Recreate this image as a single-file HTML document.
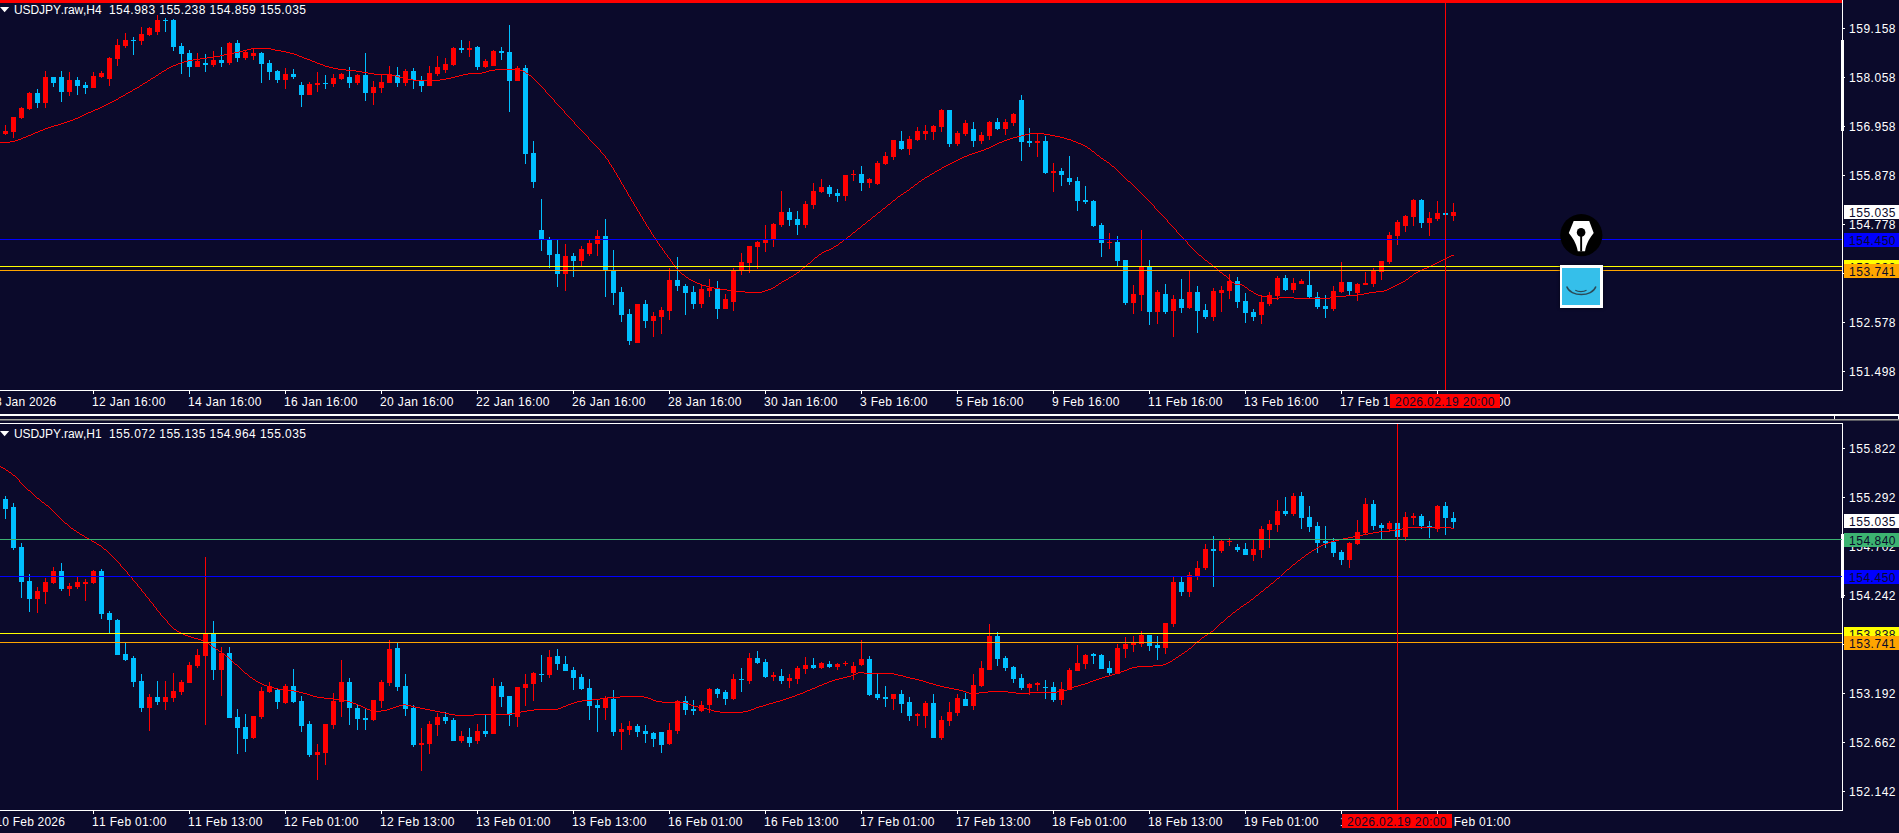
<!DOCTYPE html>
<html><head><meta charset="utf-8"><title>USDJPY</title>
<style>
html,body{margin:0;padding:0;background:#0b0a2b;}
body{width:1899px;height:833px;position:relative;overflow:hidden;font-family:"Liberation Sans",sans-serif;font-size:12px;color:#fff;font-kerning:none;}
.a{position:absolute;}
.t{position:absolute;white-space:nowrap;line-height:14px;height:14px;}
.pl{position:absolute;left:1849px;white-space:nowrap;line-height:14px;height:14px;letter-spacing:0.52px;}
.tl{position:absolute;white-space:nowrap;line-height:14px;height:14px;letter-spacing:0.37px;}
.tag{position:absolute;left:1844px;width:55px;height:14px;line-height:16px;overflow:hidden;white-space:nowrap;letter-spacing:0.52px;text-indent:5px;color:#0b0a2b;}
.tk{position:absolute;left:1843px;width:2px;height:1px;background:#fff;}
.vt{position:absolute;width:1px;height:3px;background:#fff;}
svg{position:absolute;left:0;top:0;}
</style></head><body>

<svg width="1842" height="833" viewBox="0 0 1842 833" shape-rendering="crispEdges">
<path fill="#ff0000" d="M5 125h1v10h-1zM3 131h5v3h-5zM13 117h1v21h-1zM11 117h5v15h-5zM21 107h1v12h-1zM19 108h5v10h-5zM29 92h1v18h-1zM27 93h5v16h-5zM45 71h1v37h-1zM43 77h5v26h-5zM69 72h1v24h-1zM67 80h5v12h-5zM93 72h1v16h-1zM91 76h5v12h-5zM101 71h1v7h-1zM99 73h5v4h-5zM109 57h1v29h-1zM107 58h5v21h-5zM117 39h1v27h-1zM115 45h5v14h-5zM125 33h1v15h-1zM123 40h5v6h-5zM141 27h1v18h-1zM139 34h5v7h-5zM149 27h1v9h-1zM147 28h5v7h-5zM157 15h1v20h-1zM155 20h5v12h-5zM197 53h1v14h-1zM195 61h5v6h-5zM213 51h1v16h-1zM211 60h5v5h-5zM229 42h1v23h-1zM227 43h5v20h-5zM245 50h1v10h-1zM243 52h5v6h-5zM253 48h1v12h-1zM251 53h5v3h-5zM285 68h1v21h-1zM283 74h5v6h-5zM309 82h1v13h-1zM307 84h5v11h-5zM317 72h1v20h-1zM315 83h5v2h-5zM333 74h1v13h-1zM331 78h5v6h-5zM341 73h1v7h-1zM339 74h5v5h-5zM357 74h1v11h-1zM355 75h5v8h-5zM373 81h1v24h-1zM371 87h5v6h-5zM381 74h1v19h-1zM379 82h5v6h-5zM389 66h1v17h-1zM387 74h5v9h-5zM405 69h1v17h-1zM403 71h5v12h-5zM429 66h1v20h-1zM427 73h5v13h-5zM437 56h1v20h-1zM435 67h5v7h-5zM445 58h1v15h-1zM443 64h5v6h-5zM453 47h1v19h-1zM451 48h5v17h-5zM469 41h1v16h-1zM467 48h5v2h-5zM485 59h1v9h-1zM483 61h5v6h-5zM493 50h1v16h-1zM491 51h5v15h-5zM517 66h1v15h-1zM515 68h5v13h-5zM565 244h1v47h-1zM563 256h5v18h-5zM581 246h1v20h-1zM579 249h5v12h-5zM589 240h1v16h-1zM587 243h5v11h-5zM597 230h1v26h-1zM595 236h5v8h-5zM637 304h1v39h-1zM635 304h5v39h-5zM653 312h1v25h-1zM651 316h5v5h-5zM661 307h1v27h-1zM659 310h5v7h-5zM669 268h1v52h-1zM667 280h5v31h-5zM701 284h1v24h-1zM699 289h5v15h-5zM709 279h1v18h-1zM707 288h5v3h-5zM725 294h1v15h-1zM723 299h5v10h-5zM733 268h1v43h-1zM731 271h5v31h-5zM741 253h1v22h-1zM739 262h5v8h-5zM749 246h1v27h-1zM747 246h5v17h-5zM757 241h1v28h-1zM755 242h5v5h-5zM765 225h1v27h-1zM763 240h5v3h-5zM773 223h1v24h-1zM771 224h5v15h-5zM781 191h1v36h-1zM779 212h5v13h-5zM805 201h1v27h-1zM803 204h5v21h-5zM813 183h1v26h-1zM811 191h5v14h-5zM821 179h1v14h-1zM819 187h5v5h-5zM845 175h1v26h-1zM843 175h5v21h-5zM853 170h1v11h-1zM851 174h5v1h-5zM869 178h1v10h-1zM867 179h5v4h-5zM877 161h1v24h-1zM875 163h5v21h-5zM885 152h1v13h-1zM883 156h5v8h-5zM893 140h1v20h-1zM891 140h5v17h-5zM909 136h1v19h-1zM907 139h5v10h-5zM917 127h1v14h-1zM915 131h5v9h-5zM925 125h1v15h-1zM923 131h5v3h-5zM933 125h1v15h-1zM931 126h5v6h-5zM941 109h1v23h-1zM939 110h5v17h-5zM957 131h1v15h-1zM955 133h5v11h-5zM965 120h1v16h-1zM963 123h5v11h-5zM981 132h1v12h-1zM979 135h5v6h-5zM989 121h1v19h-1zM987 122h5v14h-5zM1005 119h1v16h-1zM1003 122h5v7h-5zM1013 113h1v13h-1zM1011 114h5v9h-5zM1037 133h1v24h-1zM1035 141h5v2h-5zM1053 163h1v29h-1zM1051 171h5v2h-5zM1109 233h1v16h-1zM1107 242h5v1h-5zM1133 285h1v29h-1zM1131 294h5v9h-5zM1141 230h1v81h-1zM1139 266h5v29h-5zM1157 290h1v34h-1zM1155 292h5v20h-5zM1173 295h1v42h-1zM1171 299h5v12h-5zM1189 271h1v38h-1zM1187 292h5v16h-5zM1213 288h1v33h-1zM1211 291h5v26h-5zM1221 286h1v26h-1zM1219 290h5v3h-5zM1229 274h1v25h-1zM1227 281h5v10h-5zM1261 296h1v28h-1zM1259 302h5v13h-5zM1269 292h1v14h-1zM1267 295h5v9h-5zM1277 276h1v24h-1zM1275 278h5v18h-5zM1293 278h1v15h-1zM1291 283h5v7h-5zM1301 279h1v5h-1zM1299 281h5v3h-5zM1333 286h1v25h-1zM1331 291h5v18h-5zM1341 262h1v31h-1zM1339 282h5v10h-5zM1357 283h1v18h-1zM1355 284h5v9h-5zM1365 272h1v13h-1zM1363 283h5v2h-5zM1373 268h1v19h-1zM1371 271h5v13h-5zM1381 261h1v19h-1zM1379 261h5v11h-5zM1389 232h1v32h-1zM1387 235h5v27h-5zM1397 220h1v25h-1zM1395 222h5v14h-5zM1405 215h1v17h-1zM1403 216h5v10h-5zM1413 199h1v27h-1zM1411 200h5v17h-5zM1429 212h1v24h-1zM1427 218h5v5h-5zM1437 201h1v20h-1zM1435 213h5v6h-5zM1453 203h1v18h-1zM1451 212h5v4h-5z"/>
<path fill="#00bfff" d="M37 89h1v19h-1zM35 93h5v10h-5zM53 77h1v10h-1zM51 77h5v6h-5zM61 71h1v31h-1zM59 77h5v15h-5zM77 77h1v18h-1zM75 80h5v6h-5zM85 82h1v12h-1zM83 85h5v3h-5zM133 37h1v18h-1zM131 40h5v1h-5zM165 18h1v14h-1zM163 20h5v1h-5zM173 19h1v32h-1zM171 20h5v27h-5zM181 43h1v31h-1zM179 46h5v8h-5zM189 50h1v27h-1zM187 53h5v14h-5zM205 54h1v18h-1zM203 63h5v2h-5zM221 47h1v20h-1zM219 60h5v3h-5zM237 40h1v22h-1zM235 43h5v15h-5zM261 52h1v31h-1zM259 53h5v11h-5zM269 60h1v20h-1zM267 63h5v9h-5zM277 70h1v13h-1zM275 71h5v9h-5zM293 69h1v10h-1zM291 74h5v3h-5zM301 82h1v25h-1zM299 85h5v10h-5zM325 75h1v14h-1zM323 83h5v1h-5zM349 67h1v21h-1zM347 77h5v6h-5zM365 53h1v48h-1zM363 75h5v18h-5zM397 67h1v20h-1zM395 75h5v8h-5zM413 68h1v21h-1zM411 71h5v9h-5zM421 76h1v16h-1zM419 81h5v5h-5zM461 40h1v13h-1zM459 48h5v2h-5zM477 46h1v24h-1zM475 47h5v20h-5zM501 47h1v13h-1zM499 51h5v2h-5zM509 25h1v87h-1zM507 52h5v29h-5zM525 65h1v99h-1zM523 68h5v86h-5zM533 141h1v47h-1zM531 153h5v29h-5zM541 199h1v52h-1zM539 230h5v10h-5zM549 237h1v31h-1zM547 240h5v15h-5zM557 240h1v47h-1zM555 254h5v20h-5zM573 253h1v24h-1zM571 256h5v5h-5zM605 219h1v78h-1zM603 236h5v34h-5zM613 250h1v55h-1zM611 271h5v22h-5zM621 287h1v35h-1zM619 292h5v23h-5zM629 309h1v36h-1zM627 314h5v27h-5zM645 300h1v28h-1zM643 304h5v17h-5zM677 257h1v34h-1zM675 280h5v6h-5zM685 284h1v31h-1zM683 286h5v7h-5zM693 286h1v23h-1zM691 292h5v12h-5zM717 281h1v38h-1zM715 288h5v21h-5zM789 208h1v18h-1zM787 212h5v8h-5zM797 211h1v24h-1zM795 219h5v6h-5zM829 185h1v12h-1zM827 187h5v7h-5zM837 189h1v13h-1zM835 193h5v3h-5zM861 166h1v25h-1zM859 174h5v9h-5zM901 131h1v19h-1zM899 141h5v8h-5zM949 110h1v37h-1zM947 110h5v34h-5zM973 122h1v25h-1zM971 129h5v12h-5zM997 118h1v12h-1zM995 122h5v7h-5zM1021 95h1v66h-1zM1019 100h5v42h-5zM1029 128h1v19h-1zM1027 141h5v2h-5zM1045 136h1v38h-1zM1043 141h5v32h-5zM1061 168h1v18h-1zM1059 171h5v4h-5zM1069 156h1v29h-1zM1067 178h5v4h-5zM1077 177h1v34h-1zM1075 181h5v20h-5zM1085 186h1v18h-1zM1083 200h5v2h-5zM1093 200h1v27h-1zM1091 201h5v25h-5zM1101 223h1v34h-1zM1099 225h5v18h-5zM1117 236h1v30h-1zM1115 242h5v19h-5zM1125 260h1v45h-1zM1123 260h5v43h-5zM1149 260h1v65h-1zM1147 266h5v46h-5zM1165 284h1v30h-1zM1163 294h5v18h-5zM1181 279h1v34h-1zM1179 299h5v9h-5zM1197 286h1v47h-1zM1195 292h5v19h-5zM1205 304h1v15h-1zM1203 310h5v7h-5zM1237 277h1v31h-1zM1235 281h5v21h-5zM1245 293h1v30h-1zM1243 301h5v12h-5zM1253 309h1v12h-1zM1251 312h5v5h-5zM1285 275h1v16h-1zM1283 278h5v12h-5zM1309 271h1v28h-1zM1307 285h5v12h-5zM1317 292h1v17h-1zM1315 297h5v10h-5zM1325 295h1v23h-1zM1323 306h5v3h-5zM1349 282h1v14h-1zM1347 282h5v9h-5zM1421 199h1v29h-1zM1419 200h5v23h-5zM1445 213h1v2h-1zM1443 213h5v2h-5z"/>
<path fill="#ff0000" d="M37 587h1v26h-1zM35 591h5v8h-5zM45 578h1v26h-1zM43 582h5v10h-5zM53 567h1v17h-1zM51 571h5v12h-5zM69 583h1v13h-1zM67 586h5v3h-5zM77 577h1v12h-1zM75 582h5v5h-5zM85 579h1v22h-1zM83 582h5v2h-5zM93 570h1v14h-1zM91 571h5v12h-5zM149 694h1v37h-1zM147 697h5v11h-5zM165 681h1v29h-1zM163 697h5v5h-5zM173 673h1v29h-1zM171 691h5v7h-5zM181 680h1v15h-1zM179 682h5v10h-5zM189 662h1v21h-1zM187 665h5v18h-5zM197 649h1v19h-1zM195 655h5v11h-5zM205 557h1v168h-1zM203 634h5v22h-5zM221 647h1v49h-1zM219 653h5v17h-5zM253 716h1v23h-1zM251 716h5v22h-5zM261 687h1v32h-1zM259 691h5v26h-5zM269 682h1v11h-1zM267 686h5v6h-5zM285 684h1v20h-1zM283 686h5v17h-5zM317 744h1v36h-1zM315 752h5v3h-5zM325 724h1v41h-1zM323 724h5v29h-5zM333 693h1v36h-1zM331 701h5v24h-5zM341 660h1v57h-1zM339 682h5v20h-5zM373 700h1v21h-1zM371 700h5v20h-5zM381 680h1v28h-1zM379 682h5v19h-5zM389 640h1v46h-1zM387 649h5v34h-5zM421 728h1v43h-1zM419 743h5v2h-5zM429 721h1v33h-1zM427 724h5v20h-5zM437 713h1v23h-1zM435 717h5v8h-5zM461 731h1v12h-1zM459 736h5v5h-5zM477 724h1v20h-1zM475 731h5v10h-5zM493 678h1v56h-1zM491 686h5v48h-5zM517 687h1v40h-1zM515 687h5v30h-5zM525 674h1v32h-1zM523 684h5v4h-5zM533 672h1v29h-1zM531 673h5v11h-5zM549 650h1v28h-1zM547 657h5v18h-5zM605 696h1v24h-1zM603 698h5v10h-5zM621 723h1v27h-1zM619 729h5v3h-5zM629 721h1v14h-1zM627 726h5v4h-5zM669 723h1v22h-1zM667 730h5v14h-5zM677 700h1v34h-1zM675 701h5v30h-5zM701 701h1v11h-1zM699 705h5v6h-5zM709 688h1v25h-1zM707 689h5v16h-5zM733 674h1v26h-1zM731 679h5v20h-5zM749 653h1v31h-1zM747 658h5v23h-5zM773 672h1v9h-1zM771 675h5v2h-5zM789 674h1v14h-1zM787 678h5v3h-5zM797 666h1v18h-1zM795 668h5v11h-5zM805 657h1v17h-1zM803 665h5v4h-5zM821 662h1v7h-1zM819 663h5v5h-5zM837 663h1v7h-1zM835 664h5v3h-5zM845 661h1v5h-1zM843 663h5v1h-5zM853 662h1v18h-1zM851 666h5v7h-5zM861 640h1v26h-1zM859 659h5v6h-5zM893 694h1v16h-1zM891 694h5v5h-5zM917 713h1v13h-1zM915 714h5v2h-5zM925 701h1v27h-1zM923 703h5v13h-5zM941 716h1v24h-1zM939 720h5v18h-5zM949 702h1v24h-1zM947 712h5v9h-5zM957 694h1v22h-1zM955 698h5v15h-5zM973 674h1v36h-1zM971 685h5v21h-5zM981 661h1v26h-1zM979 668h5v18h-5zM989 624h1v46h-1zM987 636h5v34h-5zM1029 683h1v12h-1zM1027 684h5v4h-5zM1037 682h1v9h-1zM1035 683h5v2h-5zM1061 682h1v23h-1zM1059 689h5v11h-5zM1069 668h1v22h-1zM1067 670h5v20h-5zM1077 645h1v26h-1zM1075 663h5v8h-5zM1085 654h1v15h-1zM1083 655h5v9h-5zM1117 644h1v30h-1zM1115 648h5v26h-5zM1125 637h1v21h-1zM1123 644h5v5h-5zM1133 636h1v16h-1zM1131 643h5v2h-5zM1141 631h1v16h-1zM1139 635h5v9h-5zM1165 623h1v31h-1zM1163 623h5v25h-5zM1173 577h1v50h-1zM1171 582h5v42h-5zM1189 572h1v25h-1zM1187 575h5v17h-5zM1197 561h1v19h-1zM1195 568h5v8h-5zM1205 544h1v26h-1zM1203 549h5v19h-5zM1221 540h1v13h-1zM1219 541h5v10h-5zM1229 538h1v8h-1zM1227 541h5v1h-5zM1253 540h1v21h-1zM1251 549h5v6h-5zM1261 526h1v32h-1zM1259 529h5v21h-5zM1269 520h1v28h-1zM1267 524h5v6h-5zM1277 500h1v32h-1zM1275 511h5v14h-5zM1293 493h1v23h-1zM1291 496h5v18h-5zM1349 542h1v26h-1zM1347 543h5v17h-5zM1357 520h1v25h-1zM1355 532h5v12h-5zM1365 498h1v37h-1zM1363 504h5v29h-5zM1389 521h1v11h-1zM1387 523h5v6h-5zM1405 512h1v29h-1zM1403 517h5v20h-5zM1413 513h1v12h-1zM1411 516h5v2h-5zM1437 505h1v27h-1zM1435 506h5v23h-5z"/>
<path fill="#00bfff" d="M5 496h1v23h-1zM3 499h5v10h-5zM13 503h1v47h-1zM11 507h5v41h-5zM21 543h1v55h-1zM19 547h5v35h-5zM29 574h1v38h-1zM27 581h5v18h-5zM61 563h1v28h-1zM59 571h5v18h-5zM101 569h1v50h-1zM99 571h5v43h-5zM109 611h1v22h-1zM107 613h5v7h-5zM117 619h1v36h-1zM115 620h5v35h-5zM125 643h1v18h-1zM123 654h5v6h-5zM133 656h1v31h-1zM131 658h5v24h-5zM141 674h1v38h-1zM139 681h5v27h-5zM157 681h1v24h-1zM155 697h5v5h-5zM213 621h1v59h-1zM211 634h5v36h-5zM229 647h1v71h-1zM227 653h5v65h-5zM237 709h1v45h-1zM235 717h5v11h-5zM245 714h1v38h-1zM243 727h5v12h-5zM277 689h1v20h-1zM275 690h5v12h-5zM293 669h1v34h-1zM291 686h5v16h-5zM301 696h1v36h-1zM299 701h5v25h-5zM309 721h1v36h-1zM307 724h5v31h-5zM349 678h1v47h-1zM347 682h5v26h-5zM357 705h1v25h-1zM355 708h5v11h-5zM365 709h1v21h-1zM363 718h5v2h-5zM397 643h1v48h-1zM395 648h5v39h-5zM405 674h1v42h-1zM403 686h5v23h-5zM413 705h1v42h-1zM411 708h5v37h-5zM445 712h1v12h-1zM443 717h5v4h-5zM453 718h1v23h-1zM451 720h5v21h-5zM469 728h1v19h-1zM467 737h5v6h-5zM485 715h1v22h-1zM483 731h5v3h-5zM501 682h1v25h-1zM499 686h5v11h-5zM509 696h1v30h-1zM507 696h5v19h-5zM541 655h1v27h-1zM539 674h5v1h-5zM557 649h1v21h-1zM555 656h5v8h-5zM565 656h1v15h-1zM563 664h5v7h-5zM573 667h1v23h-1zM571 670h5v8h-5zM581 674h1v16h-1zM579 677h5v12h-5zM589 679h1v41h-1zM587 688h5v18h-5zM597 700h1v32h-1zM595 705h5v3h-5zM613 690h1v46h-1zM611 699h5v33h-5zM637 724h1v13h-1zM635 726h5v6h-5zM645 725h1v18h-1zM643 731h5v3h-5zM653 732h1v15h-1zM651 733h5v6h-5zM661 732h1v21h-1zM659 732h5v13h-5zM685 696h1v19h-1zM683 701h5v9h-5zM693 700h1v15h-1zM691 709h5v2h-5zM717 688h1v10h-1zM715 689h5v5h-5zM725 690h1v15h-1zM723 692h5v7h-5zM741 668h1v24h-1zM739 679h5v1h-5zM757 651h1v13h-1zM755 658h5v5h-5zM765 659h1v19h-1zM763 662h5v15h-5zM781 669h1v15h-1zM779 676h5v5h-5zM813 658h1v11h-1zM811 665h5v3h-5zM829 661h1v7h-1zM827 664h5v3h-5zM869 656h1v40h-1zM867 659h5v36h-5zM877 674h1v26h-1zM875 694h5v4h-5zM885 686h1v21h-1zM883 697h5v2h-5zM901 690h1v23h-1zM899 694h5v10h-5zM909 697h1v24h-1zM907 702h5v14h-5zM933 694h1v44h-1zM931 703h5v35h-5zM965 693h1v13h-1zM963 699h5v7h-5zM997 632h1v34h-1zM995 636h5v23h-5zM1005 656h1v15h-1zM1003 658h5v10h-5zM1013 666h1v17h-1zM1011 667h5v12h-5zM1021 674h1v16h-1zM1019 678h5v10h-5zM1045 680h1v19h-1zM1043 687h5v1h-5zM1053 682h1v20h-1zM1051 687h5v13h-5zM1093 653h1v11h-1zM1091 654h5v2h-5zM1101 654h1v15h-1zM1099 655h5v14h-5zM1109 661h1v14h-1zM1107 668h5v5h-5zM1149 635h1v16h-1zM1147 635h5v11h-5zM1157 636h1v24h-1zM1155 645h5v3h-5zM1181 577h1v19h-1zM1179 582h5v10h-5zM1213 536h1v51h-1zM1211 549h5v2h-5zM1237 544h1v8h-1zM1235 547h5v3h-5zM1245 543h1v12h-1zM1243 549h5v6h-5zM1285 497h1v19h-1zM1283 511h5v3h-5zM1301 492h1v37h-1zM1299 496h5v22h-5zM1309 506h1v26h-1zM1307 517h5v10h-5zM1317 522h1v31h-1zM1315 526h5v17h-5zM1325 526h1v22h-1zM1323 541h5v2h-5zM1333 538h1v19h-1zM1331 542h5v11h-5zM1341 550h1v15h-1zM1339 552h5v8h-5zM1373 500h1v30h-1zM1371 504h5v22h-5zM1381 523h1v16h-1zM1379 525h5v3h-5zM1397 523h1v14h-1zM1395 523h5v14h-5zM1421 514h1v15h-1zM1419 516h5v10h-5zM1429 521h1v17h-1zM1427 526h5v2h-5zM1445 502h1v33h-1zM1443 506h5v12h-5zM1453 512h1v17h-1zM1451 518h5v4h-5z"/>
<path fill="#ff0000" d="M0 142h10v1h-10zM10 141h5v1h-5zM15 140h3v1h-3zM18 139h3v1h-3zM21 138h2v1h-2zM23 137h3v1h-3zM26 136h2v1h-2zM28 135h3v1h-3zM31 134h2v1h-2zM33 133h2v1h-2zM35 132h3v1h-3zM38 131h2v1h-2zM40 130h3v1h-3zM43 129h2v1h-2zM45 128h3v1h-3zM48 127h3v1h-3zM51 126h3v1h-3zM54 125h4v1h-4zM58 124h3v1h-3zM61 123h3v1h-3zM64 122h3v1h-3zM67 121h3v1h-3zM70 120h3v1h-3zM73 119h2v1h-2zM75 118h3v1h-3zM78 117h2v1h-2zM80 116h2v1h-2zM82 115h2v1h-2zM84 114h2v1h-2zM86 113h2v1h-2zM88 112h3v1h-3zM91 111h2v1h-2zM93 110h2v1h-2zM95 109h3v1h-3zM98 108h2v1h-2zM100 107h2v1h-2zM102 106h2v1h-2zM104 105h2v1h-2zM106 104h2v1h-2zM108 103h2v1h-2zM110 102h2v1h-2zM112 101h2v1h-2zM114 100h2v1h-2zM116 99h2v1h-2zM118 98h1v1h-1zM119 97h2v1h-2zM121 96h2v1h-2zM123 95h2v1h-2zM125 94h1v1h-1zM126 93h2v1h-2zM128 92h2v1h-2zM130 91h2v1h-2zM132 90h1v1h-1zM133 89h2v1h-2zM135 88h2v1h-2zM137 87h2v1h-2zM139 86h1v1h-1zM140 85h2v1h-2zM142 84h1v1h-1zM143 83h2v1h-2zM145 82h2v1h-2zM147 81h1v1h-1zM148 80h2v1h-2zM150 79h1v1h-1zM151 78h2v1h-2zM153 77h2v1h-2zM155 76h1v1h-1zM156 75h2v1h-2zM158 74h1v1h-1zM159 73h2v1h-2zM161 72h1v1h-1zM162 71h2v1h-2zM164 70h2v1h-2zM166 69h1v1h-1zM167 68h2v1h-2zM169 67h2v1h-2zM171 66h2v1h-2zM173 65h3v1h-3zM176 64h2v1h-2zM178 63h3v1h-3zM181 62h3v1h-3zM184 61h4v1h-4zM188 60h5v1h-5zM193 59h7v1h-7zM200 58h7v1h-7zM207 57h7v1h-7zM214 56h6v1h-6zM220 55h4v1h-4zM224 54h5v1h-5zM229 53h5v1h-5zM234 52h5v1h-5zM239 51h4v1h-4zM243 50h4v1h-4zM247 49h4v1h-4zM251 48h20v1h-20zM271 49h4v1h-4zM275 50h6v1h-6zM281 51h5v1h-5zM286 52h4v1h-4zM290 53h4v1h-4zM294 54h3v1h-3zM297 55h2v1h-2zM299 56h3v1h-3zM302 57h2v1h-2zM304 58h3v1h-3zM307 59h3v1h-3zM310 60h2v1h-2zM312 61h3v1h-3zM315 62h2v1h-2zM317 63h3v1h-3zM320 64h3v1h-3zM323 65h2v1h-2zM325 66h4v1h-4zM329 67h4v1h-4zM333 68h5v1h-5zM338 69h8v1h-8zM346 70h10v1h-10zM356 71h6v1h-6zM362 72h6v1h-6zM368 73h6v1h-6zM374 74h13v1h-13zM387 75h9v1h-9zM396 76h3v1h-3zM399 77h4v1h-4zM403 78h5v1h-5zM408 79h5v1h-5zM413 80h27v1h-27zM440 79h6v1h-6zM446 78h5v1h-5zM451 77h4v1h-4zM455 76h4v1h-4zM459 75h4v1h-4zM463 74h5v1h-5zM468 73h14v1h-14zM482 72h4v1h-4zM486 71h3v1h-3zM489 70h6v1h-6zM495 69h25v1h-25zM520 70h3v1h-3zM523 71h2v1h-2zM525 72h1v1h-1zM526 73h2v1h-2zM528 74h1v1h-1zM529 75h2v1h-2zM531 76h1v1h-1zM532 77h1v1h-1zM533 78h1v1h-1zM534 79h1v1h-1zM535 80h1v1h-1zM536 81h1v1h-1zM537 82h1v1h-1zM538 83h1v1h-1zM539 84h1v1h-1zM540 85h1v1h-1zM541 86h1v1h-1zM542 87h1v1h-1zM543 88h1v1h-1zM544 89h1v1h-1zM545 90h1v2h-1zM546 92h1v1h-1zM547 93h1v1h-1zM548 94h1v1h-1zM549 95h1v1h-1zM550 96h1v1h-1zM551 97h1v1h-1zM552 98h1v1h-1zM553 99h1v1h-1zM554 100h1v2h-1zM555 102h1v1h-1zM556 103h1v1h-1zM557 104h1v1h-1zM558 105h1v1h-1zM559 106h1v1h-1zM560 107h1v1h-1zM561 108h1v1h-1zM562 109h1v1h-1zM563 110h1v1h-1zM564 111h1v2h-1zM565 113h1v1h-1zM566 114h1v1h-1zM567 115h1v1h-1zM568 116h1v1h-1zM569 117h1v1h-1zM570 118h1v1h-1zM571 119h1v1h-1zM572 120h1v1h-1zM573 121h1v1h-1zM574 122h1v2h-1zM575 124h1v1h-1zM576 125h1v1h-1zM577 126h1v1h-1zM578 127h1v1h-1zM579 128h1v1h-1zM580 129h1v1h-1zM581 130h1v1h-1zM582 131h1v1h-1zM583 132h1v1h-1zM584 133h1v1h-1zM585 134h1v1h-1zM586 135h1v1h-1zM587 136h1v1h-1zM588 137h1v2h-1zM589 139h1v1h-1zM590 140h1v1h-1zM591 141h1v1h-1zM592 142h1v1h-1zM593 143h1v1h-1zM594 144h1v1h-1zM595 145h1v1h-1zM596 146h1v1h-1zM597 147h1v1h-1zM598 148h1v1h-1zM599 149h1v1h-1zM600 150h1v2h-1zM601 152h1v1h-1zM602 153h1v1h-1zM603 154h1v1h-1zM604 155h1v1h-1zM605 156h1v2h-1zM606 158h1v1h-1zM607 159h1v1h-1zM608 160h1v2h-1zM609 162h1v2h-1zM610 164h1v1h-1zM611 165h1v2h-1zM612 167h1v1h-1zM613 168h1v2h-1zM614 170h1v2h-1zM615 172h1v1h-1zM616 173h1v2h-1zM617 175h1v2h-1zM618 177h1v1h-1zM619 178h1v2h-1zM620 180h1v2h-1zM621 182h1v2h-1zM622 184h1v1h-1zM623 185h1v2h-1zM624 187h1v2h-1zM625 189h1v1h-1zM626 190h1v2h-1zM627 192h1v2h-1zM628 194h1v2h-1zM629 196h1v1h-1zM630 197h1v2h-1zM631 199h1v2h-1zM632 201h1v1h-1zM633 202h1v2h-1zM634 204h1v2h-1zM635 206h1v1h-1zM636 207h1v2h-1zM637 209h1v2h-1zM638 211h1v1h-1zM639 212h1v2h-1zM640 214h1v2h-1zM641 216h1v1h-1zM642 217h1v2h-1zM643 219h1v2h-1zM644 221h1v1h-1zM645 222h1v2h-1zM646 224h1v2h-1zM647 226h1v1h-1zM648 227h1v2h-1zM649 229h1v1h-1zM650 230h1v2h-1zM651 232h1v2h-1zM652 234h1v1h-1zM653 235h1v2h-1zM654 237h1v1h-1zM655 238h1v2h-1zM656 240h1v1h-1zM657 241h1v2h-1zM658 243h1v1h-1zM659 244h1v2h-1zM660 246h1v1h-1zM661 247h1v1h-1zM662 248h1v2h-1zM663 250h1v1h-1zM664 251h1v2h-1zM665 253h1v1h-1zM666 254h1v1h-1zM667 255h1v2h-1zM668 257h1v1h-1zM669 258h1v1h-1zM670 259h1v2h-1zM671 261h1v1h-1zM672 262h1v2h-1zM673 264h1v1h-1zM674 265h1v1h-1zM675 266h1v2h-1zM676 268h1v1h-1zM677 269h1v1h-1zM678 270h1v1h-1zM679 271h1v1h-1zM680 272h1v1h-1zM681 273h1v1h-1zM682 274h2v1h-2zM684 275h1v1h-1zM685 276h1v1h-1zM686 277h2v1h-2zM688 278h1v1h-1zM689 279h2v1h-2zM691 280h2v1h-2zM693 281h2v1h-2zM695 282h2v1h-2zM697 283h3v1h-3zM700 284h2v1h-2zM702 285h4v1h-4zM706 286h4v1h-4zM710 287h4v1h-4zM714 288h6v1h-6zM720 289h7v1h-7zM727 290h8v1h-8zM735 291h10v1h-10zM745 292h17v1h-17zM762 291h3v1h-3zM765 290h3v1h-3zM768 289h3v1h-3zM771 288h2v1h-2zM773 287h2v1h-2zM775 286h1v1h-1zM776 285h2v1h-2zM778 284h1v1h-1zM779 283h2v1h-2zM781 282h1v1h-1zM782 281h2v1h-2zM784 280h2v1h-2zM786 279h2v1h-2zM788 278h1v1h-1zM789 277h2v1h-2zM791 276h2v1h-2zM793 275h1v1h-1zM794 274h2v1h-2zM796 273h1v1h-1zM797 272h2v1h-2zM799 271h1v1h-1zM800 270h1v1h-1zM801 269h1v1h-1zM802 268h1v1h-1zM803 267h2v1h-2zM805 266h1v1h-1zM806 265h1v1h-1zM807 264h1v1h-1zM808 263h2v1h-2zM810 262h1v1h-1zM811 261h1v1h-1zM812 260h1v1h-1zM813 259h1v1h-1zM814 258h1v1h-1zM815 257h2v1h-2zM817 256h1v1h-1zM818 255h1v1h-1zM819 254h2v1h-2zM821 253h1v1h-1zM822 252h2v1h-2zM824 251h2v1h-2zM826 250h3v1h-3zM829 249h2v1h-2zM831 248h2v1h-2zM833 247h1v1h-1zM834 246h2v1h-2zM836 245h2v1h-2zM838 244h1v1h-1zM839 243h1v1h-1zM840 242h2v1h-2zM842 241h1v1h-1zM843 240h1v1h-1zM844 239h2v1h-2zM846 238h1v1h-1zM847 237h1v1h-1zM848 236h2v1h-2zM850 235h1v1h-1zM851 234h1v1h-1zM852 233h1v1h-1zM853 232h2v1h-2zM855 231h1v1h-1zM856 230h1v1h-1zM857 229h1v1h-1zM858 228h2v1h-2zM860 227h1v1h-1zM861 226h1v1h-1zM862 225h1v1h-1zM863 224h2v1h-2zM865 223h1v1h-1zM866 222h1v1h-1zM867 221h1v1h-1zM868 220h2v1h-2zM870 219h1v1h-1zM871 218h1v1h-1zM872 217h1v1h-1zM873 216h2v1h-2zM875 215h1v1h-1zM876 214h1v1h-1zM877 213h1v1h-1zM878 212h2v1h-2zM880 211h1v1h-1zM881 210h1v1h-1zM882 209h1v1h-1zM883 208h2v1h-2zM885 207h1v1h-1zM886 206h1v1h-1zM887 205h1v1h-1zM888 204h2v1h-2zM890 203h1v1h-1zM891 202h1v1h-1zM892 201h1v1h-1zM893 200h2v1h-2zM895 199h1v1h-1zM896 198h1v1h-1zM897 197h1v1h-1zM898 196h2v1h-2zM900 195h1v1h-1zM901 194h2v1h-2zM903 193h1v1h-1zM904 192h2v1h-2zM906 191h1v1h-1zM907 190h2v1h-2zM909 189h1v1h-1zM910 188h1v1h-1zM911 187h2v1h-2zM913 186h1v1h-1zM914 185h1v1h-1zM915 184h2v1h-2zM917 183h1v1h-1zM918 182h1v1h-1zM919 181h2v1h-2zM921 180h1v1h-1zM922 179h2v1h-2zM924 178h1v1h-1zM925 177h2v1h-2zM927 176h2v1h-2zM929 175h1v1h-1zM930 174h2v1h-2zM932 173h2v1h-2zM934 172h1v1h-1zM935 171h2v1h-2zM937 170h2v1h-2zM939 169h2v1h-2zM941 168h1v1h-1zM942 167h2v1h-2zM944 166h2v1h-2zM946 165h2v1h-2zM948 164h2v1h-2zM950 163h2v1h-2zM952 162h2v1h-2zM954 161h2v1h-2zM956 160h2v1h-2zM958 159h2v1h-2zM960 158h2v1h-2zM962 157h2v1h-2zM964 156h3v1h-3zM967 155h2v1h-2zM969 154h3v1h-3zM972 153h3v1h-3zM975 152h3v1h-3zM978 151h3v1h-3zM981 150h3v1h-3zM984 149h2v1h-2zM986 148h3v1h-3zM989 147h2v1h-2zM991 146h2v1h-2zM993 145h2v1h-2zM995 144h2v1h-2zM997 143h2v1h-2zM999 142h3v1h-3zM1002 141h2v1h-2zM1004 140h3v1h-3zM1007 139h3v1h-3zM1010 138h3v1h-3zM1013 137h4v1h-4zM1017 136h4v1h-4zM1021 135h4v1h-4zM1025 134h4v1h-4zM1029 133h15v1h-15zM1044 134h6v1h-6zM1050 135h5v1h-5zM1055 136h5v1h-5zM1060 137h4v1h-4zM1064 138h3v1h-3zM1067 139h4v1h-4zM1071 140h2v1h-2zM1073 141h3v1h-3zM1076 142h2v1h-2zM1078 143h3v1h-3zM1081 144h2v1h-2zM1083 145h2v1h-2zM1085 146h2v1h-2zM1087 147h1v1h-1zM1088 148h2v1h-2zM1090 149h1v1h-1zM1091 150h1v1h-1zM1092 151h2v1h-2zM1094 152h1v1h-1zM1095 153h1v1h-1zM1096 154h1v1h-1zM1097 155h2v1h-2zM1099 156h1v1h-1zM1100 157h1v1h-1zM1101 158h2v1h-2zM1103 159h1v1h-1zM1104 160h2v1h-2zM1106 161h1v1h-1zM1107 162h2v1h-2zM1109 163h1v1h-1zM1110 164h1v1h-1zM1111 165h1v1h-1zM1112 166h2v1h-2zM1114 167h1v1h-1zM1115 168h1v1h-1zM1116 169h1v1h-1zM1117 170h1v1h-1zM1118 171h1v1h-1zM1119 172h1v1h-1zM1120 173h1v1h-1zM1121 174h1v1h-1zM1122 175h1v1h-1zM1123 176h1v1h-1zM1124 177h1v1h-1zM1125 178h1v1h-1zM1126 179h1v1h-1zM1127 180h1v1h-1zM1128 181h2v1h-2zM1130 182h1v1h-1zM1131 183h1v1h-1zM1132 184h1v1h-1zM1133 185h1v1h-1zM1134 186h1v1h-1zM1135 187h1v1h-1zM1136 188h1v1h-1zM1137 189h1v1h-1zM1138 190h1v1h-1zM1139 191h1v1h-1zM1140 192h1v1h-1zM1141 193h1v1h-1zM1142 194h1v1h-1zM1143 195h1v1h-1zM1144 196h1v1h-1zM1145 197h1v1h-1zM1146 198h1v1h-1zM1147 199h1v1h-1zM1148 200h1v1h-1zM1149 201h1v1h-1zM1150 202h1v1h-1zM1151 203h1v1h-1zM1152 204h1v1h-1zM1153 205h1v1h-1zM1154 206h1v2h-1zM1155 208h1v1h-1zM1156 209h1v1h-1zM1157 210h1v1h-1zM1158 211h1v1h-1zM1159 212h1v1h-1zM1160 213h1v1h-1zM1161 214h1v1h-1zM1162 215h1v1h-1zM1163 216h1v1h-1zM1164 217h1v1h-1zM1165 218h1v1h-1zM1166 219h1v1h-1zM1167 220h1v2h-1zM1168 222h1v1h-1zM1169 223h1v1h-1zM1170 224h1v1h-1zM1171 225h1v1h-1zM1172 226h1v1h-1zM1173 227h1v1h-1zM1174 228h1v1h-1zM1175 229h1v1h-1zM1176 230h1v2h-1zM1177 232h1v1h-1zM1178 233h1v1h-1zM1179 234h1v1h-1zM1180 235h1v1h-1zM1181 236h1v1h-1zM1182 237h1v1h-1zM1183 238h1v1h-1zM1184 239h1v1h-1zM1185 240h1v1h-1zM1186 241h1v1h-1zM1187 242h1v2h-1zM1188 244h1v1h-1zM1189 245h1v1h-1zM1190 246h1v1h-1zM1191 247h1v1h-1zM1192 248h1v1h-1zM1193 249h1v1h-1zM1194 250h1v1h-1zM1195 251h1v1h-1zM1196 252h1v1h-1zM1197 253h1v1h-1zM1198 254h1v1h-1zM1199 255h2v1h-2zM1201 256h1v1h-1zM1202 257h1v1h-1zM1203 258h1v1h-1zM1204 259h1v1h-1zM1205 260h2v1h-2zM1207 261h1v1h-1zM1208 262h1v1h-1zM1209 263h2v1h-2zM1211 264h1v1h-1zM1212 265h1v1h-1zM1213 266h1v1h-1zM1214 267h2v1h-2zM1216 268h1v1h-1zM1217 269h1v1h-1zM1218 270h1v1h-1zM1219 271h1v1h-1zM1220 272h2v1h-2zM1222 273h1v1h-1zM1223 274h1v1h-1zM1224 275h2v1h-2zM1226 276h1v1h-1zM1227 277h1v1h-1zM1228 278h1v1h-1zM1229 279h1v1h-1zM1230 280h1v1h-1zM1231 281h1v1h-1zM1232 282h2v1h-2zM1234 283h1v1h-1zM1235 284h7v1h-7zM1242 285h2v1h-2zM1244 286h1v1h-1zM1245 287h2v1h-2zM1247 288h1v1h-1zM1248 289h1v1h-1zM1249 290h2v1h-2zM1251 291h2v1h-2zM1253 292h1v1h-1zM1254 293h2v1h-2zM1256 294h2v1h-2zM1258 295h4v1h-4zM1262 296h6v1h-6zM1268 297h3v1h-3zM1271 298h8v1h-8zM1279 297h15v1h-15zM1294 298h36v1h-36zM1330 297h3v1h-3zM1333 296h13v1h-13zM1346 295h12v1h-12zM1358 294h6v1h-6zM1364 293h5v1h-5zM1369 292h7v1h-7zM1376 291h8v1h-8zM1384 290h3v1h-3zM1387 289h2v1h-2zM1389 288h2v1h-2zM1391 287h2v1h-2zM1393 286h2v1h-2zM1395 285h2v1h-2zM1397 284h2v1h-2zM1399 283h2v1h-2zM1401 282h2v1h-2zM1403 281h2v1h-2zM1405 280h1v1h-1zM1406 279h2v1h-2zM1408 278h1v1h-1zM1409 277h1v1h-1zM1410 276h2v1h-2zM1412 275h1v1h-1zM1413 274h1v1h-1zM1414 273h2v1h-2zM1416 272h2v1h-2zM1418 271h2v1h-2zM1420 270h2v1h-2zM1422 269h2v1h-2zM1424 268h3v1h-3zM1427 267h2v1h-2zM1429 266h2v1h-2zM1431 265h2v1h-2zM1433 264h2v1h-2zM1435 263h2v1h-2zM1437 262h2v1h-2zM1439 261h2v1h-2zM1441 260h2v1h-2zM1443 259h2v1h-2zM1445 258h2v1h-2zM1447 257h2v1h-2zM1449 256h2v1h-2zM1451 255h3v1h-3z"/>
<path fill="#ff0000" d="M0 466h1v1h-1zM1 467h2v1h-2zM3 468h2v1h-2zM5 469h1v1h-1zM6 470h2v1h-2zM8 471h1v1h-1zM9 472h2v1h-2zM11 473h1v1h-1zM12 474h1v1h-1zM13 475h2v1h-2zM15 476h1v1h-1zM16 477h1v1h-1zM17 478h1v1h-1zM18 479h1v1h-1zM19 480h1v2h-1zM20 482h1v1h-1zM21 483h1v1h-1zM22 484h1v1h-1zM23 485h1v1h-1zM24 486h1v1h-1zM25 487h1v1h-1zM26 488h1v1h-1zM27 489h1v1h-1zM28 490h2v1h-2zM30 491h1v1h-1zM31 492h1v1h-1zM32 493h1v1h-1zM33 494h1v1h-1zM34 495h1v1h-1zM35 496h1v1h-1zM36 497h1v1h-1zM37 498h2v1h-2zM39 499h1v1h-1zM40 500h1v1h-1zM41 501h1v1h-1zM42 502h2v1h-2zM44 503h1v1h-1zM45 504h1v1h-1zM46 505h2v1h-2zM48 506h1v1h-1zM49 507h1v1h-1zM50 508h1v1h-1zM51 509h1v1h-1zM52 510h1v1h-1zM53 511h1v1h-1zM54 512h1v1h-1zM55 513h1v1h-1zM56 514h1v1h-1zM57 515h1v1h-1zM58 516h1v1h-1zM59 517h1v1h-1zM60 518h1v1h-1zM61 519h1v1h-1zM62 520h1v1h-1zM63 521h1v1h-1zM64 522h1v1h-1zM65 523h2v1h-2zM67 524h1v1h-1zM68 525h1v1h-1zM69 526h1v1h-1zM70 527h1v1h-1zM71 528h2v1h-2zM73 529h1v1h-1zM74 530h2v1h-2zM76 531h1v1h-1zM77 532h2v1h-2zM79 533h1v1h-1zM80 534h2v1h-2zM82 535h2v1h-2zM84 536h1v1h-1zM85 537h2v1h-2zM87 538h2v1h-2zM89 539h2v1h-2zM91 540h1v1h-1zM92 541h2v1h-2zM94 542h2v1h-2zM96 543h1v1h-1zM97 544h2v1h-2zM99 545h2v1h-2zM101 546h1v1h-1zM102 547h1v1h-1zM103 548h1v1h-1zM104 549h2v1h-2zM106 550h1v1h-1zM107 551h1v1h-1zM108 552h1v1h-1zM109 553h1v1h-1zM110 554h1v1h-1zM111 555h1v1h-1zM112 556h1v1h-1zM113 557h1v1h-1zM114 558h1v1h-1zM115 559h1v1h-1zM116 560h1v1h-1zM117 561h1v1h-1zM118 562h1v1h-1zM119 563h1v1h-1zM120 564h1v2h-1zM121 566h1v1h-1zM122 567h1v1h-1zM123 568h1v1h-1zM124 569h1v1h-1zM125 570h1v1h-1zM126 571h1v1h-1zM127 572h1v2h-1zM128 574h1v1h-1zM129 575h1v1h-1zM130 576h1v1h-1zM131 577h1v1h-1zM132 578h1v2h-1zM133 580h1v1h-1zM134 581h1v1h-1zM135 582h1v1h-1zM136 583h1v1h-1zM137 584h1v2h-1zM138 586h1v1h-1zM139 587h1v1h-1zM140 588h1v1h-1zM141 589h1v2h-1zM142 591h1v1h-1zM143 592h1v1h-1zM144 593h1v1h-1zM145 594h1v2h-1zM146 596h1v1h-1zM147 597h1v1h-1zM148 598h1v1h-1zM149 599h1v2h-1zM150 601h1v1h-1zM151 602h1v1h-1zM152 603h1v1h-1zM153 604h1v2h-1zM154 606h1v1h-1zM155 607h1v1h-1zM156 608h1v2h-1zM157 610h1v1h-1zM158 611h1v1h-1zM159 612h1v1h-1zM160 613h1v2h-1zM161 615h1v1h-1zM162 616h1v1h-1zM163 617h1v1h-1zM164 618h1v1h-1zM165 619h1v1h-1zM166 620h1v1h-1zM167 621h1v2h-1zM168 623h1v1h-1zM169 624h1v1h-1zM170 625h1v1h-1zM171 626h1v1h-1zM172 627h1v1h-1zM173 628h1v1h-1zM174 629h2v1h-2zM176 630h1v1h-1zM177 631h2v1h-2zM179 632h2v1h-2zM181 633h2v1h-2zM183 634h2v1h-2zM185 635h3v1h-3zM188 636h3v1h-3zM191 637h3v1h-3zM194 638h4v1h-4zM198 639h3v1h-3zM201 640h3v1h-3zM204 641h1v1h-1zM205 642h2v1h-2zM207 643h2v1h-2zM209 644h1v1h-1zM210 645h2v1h-2zM212 646h1v1h-1zM213 647h2v1h-2zM215 648h1v1h-1zM216 649h2v1h-2zM218 650h1v1h-1zM219 651h2v1h-2zM221 652h1v1h-1zM222 653h2v1h-2zM224 654h1v1h-1zM225 655h1v1h-1zM226 656h2v1h-2zM228 657h1v1h-1zM229 658h1v1h-1zM230 659h1v1h-1zM231 660h1v1h-1zM232 661h1v1h-1zM233 662h1v1h-1zM234 663h1v1h-1zM235 664h2v1h-2zM237 665h1v1h-1zM238 666h1v1h-1zM239 667h1v1h-1zM240 668h1v1h-1zM241 669h1v1h-1zM242 670h1v1h-1zM243 671h1v1h-1zM244 672h1v1h-1zM245 673h2v1h-2zM247 674h1v1h-1zM248 675h1v1h-1zM249 676h1v1h-1zM250 677h2v1h-2zM252 678h1v1h-1zM253 679h2v1h-2zM255 680h1v1h-1zM256 681h2v1h-2zM258 682h2v1h-2zM260 683h2v1h-2zM262 684h2v1h-2zM264 685h3v1h-3zM267 686h3v1h-3zM270 687h4v1h-4zM274 688h4v1h-4zM278 689h9v1h-9zM287 690h7v1h-7zM294 691h5v1h-5zM299 692h4v1h-4zM303 693h4v1h-4zM307 694h3v1h-3zM310 695h3v1h-3zM313 696h4v1h-4zM317 697h7v1h-7zM324 698h9v1h-9zM333 699h9v1h-9zM342 700h5v1h-5zM347 701h3v1h-3zM350 702h3v1h-3zM353 703h3v1h-3zM356 704h2v1h-2zM358 705h3v1h-3zM361 706h2v1h-2zM363 707h2v1h-2zM365 708h2v1h-2zM367 709h3v1h-3zM370 710h2v1h-2zM372 711h9v1h-9zM381 710h6v1h-6zM387 709h3v1h-3zM390 708h3v1h-3zM393 707h3v1h-3zM396 706h3v1h-3zM399 705h4v1h-4zM403 704h3v1h-3zM406 705h5v1h-5zM411 706h4v1h-4zM415 707h5v1h-5zM420 708h5v1h-5zM425 709h5v1h-5zM430 710h5v1h-5zM435 711h5v1h-5zM440 712h5v1h-5zM445 713h4v1h-4zM449 714h6v1h-6zM455 715h19v1h-19zM474 714h17v1h-17zM491 715h4v1h-4zM495 714h15v1h-15zM510 713h5v1h-5zM515 712h6v1h-6zM521 711h6v1h-6zM527 710h7v1h-7zM534 709h24v1h-24zM558 708h3v1h-3zM561 707h2v1h-2zM563 706h3v1h-3zM566 705h2v1h-2zM568 704h3v1h-3zM571 703h3v1h-3zM574 702h3v1h-3zM577 701h5v1h-5zM582 700h10v1h-10zM592 699h8v1h-8zM600 698h7v1h-7zM607 697h13v1h-13zM620 696h24v1h-24zM644 697h4v1h-4zM648 698h3v1h-3zM651 699h2v1h-2zM653 700h3v1h-3zM656 701h6v1h-6zM662 702h24v1h-24zM686 703h3v1h-3zM689 704h2v1h-2zM691 705h3v1h-3zM694 706h4v1h-4zM698 707h4v1h-4zM702 708h5v1h-5zM707 709h4v1h-4zM711 710h3v1h-3zM714 711h6v1h-6zM720 712h23v1h-23zM743 711h5v1h-5zM748 710h3v1h-3zM751 709h3v1h-3zM754 708h2v1h-2zM756 707h3v1h-3zM759 706h4v1h-4zM763 705h3v1h-3zM766 704h3v1h-3zM769 703h4v1h-4zM773 702h3v1h-3zM776 701h4v1h-4zM780 700h3v1h-3zM783 699h3v1h-3zM786 698h3v1h-3zM789 697h3v1h-3zM792 696h3v1h-3zM795 695h2v1h-2zM797 694h3v1h-3zM800 693h3v1h-3zM803 692h2v1h-2zM805 691h2v1h-2zM807 690h3v1h-3zM810 689h2v1h-2zM812 688h3v1h-3zM815 687h2v1h-2zM817 686h2v1h-2zM819 685h3v1h-3zM822 684h2v1h-2zM824 683h3v1h-3zM827 682h2v1h-2zM829 681h3v1h-3zM832 680h3v1h-3zM835 679h4v1h-4zM839 678h4v1h-4zM843 677h4v1h-4zM847 676h4v1h-4zM851 675h3v1h-3zM854 674h2v1h-2zM856 673h2v1h-2zM858 672h6v1h-6zM864 673h30v1h-30zM894 674h4v1h-4zM898 675h5v1h-5zM903 676h3v1h-3zM906 677h4v1h-4zM910 678h5v1h-5zM915 679h4v1h-4zM919 680h4v1h-4zM923 681h3v1h-3zM926 682h3v1h-3zM929 683h4v1h-4zM933 684h3v1h-3zM936 685h4v1h-4zM940 686h4v1h-4zM944 687h5v1h-5zM949 688h5v1h-5zM954 689h5v1h-5zM959 690h4v1h-4zM963 691h3v1h-3zM966 692h3v1h-3zM969 693h10v1h-10zM979 692h9v1h-9zM988 691h20v1h-20zM1008 692h8v1h-8zM1016 693h14v1h-14zM1030 692h27v1h-27zM1057 691h7v1h-7zM1064 690h3v1h-3zM1067 689h2v1h-2zM1069 688h3v1h-3zM1072 687h2v1h-2zM1074 686h4v1h-4zM1078 685h3v1h-3zM1081 684h4v1h-4zM1085 683h3v1h-3zM1088 682h2v1h-2zM1090 681h3v1h-3zM1093 680h3v1h-3zM1096 679h3v1h-3zM1099 678h3v1h-3zM1102 677h3v1h-3zM1105 676h4v1h-4zM1109 675h3v1h-3zM1112 674h3v1h-3zM1115 673h3v1h-3zM1118 672h3v1h-3zM1121 671h3v1h-3zM1124 670h3v1h-3zM1127 669h2v1h-2zM1129 668h3v1h-3zM1132 667h5v1h-5zM1137 666h16v1h-16zM1153 665h10v1h-10zM1163 664h3v1h-3zM1166 663h2v1h-2zM1168 662h2v1h-2zM1170 661h2v1h-2zM1172 660h1v1h-1zM1173 659h2v1h-2zM1175 658h1v1h-1zM1176 657h2v1h-2zM1178 656h1v1h-1zM1179 655h2v1h-2zM1181 654h1v1h-1zM1182 653h2v1h-2zM1184 652h1v1h-1zM1185 651h2v1h-2zM1187 650h1v1h-1zM1188 649h1v1h-1zM1189 648h2v1h-2zM1191 647h1v1h-1zM1192 646h1v1h-1zM1193 645h1v1h-1zM1194 644h1v1h-1zM1195 643h1v1h-1zM1196 642h1v1h-1zM1197 641h2v1h-2zM1199 640h1v1h-1zM1200 639h1v1h-1zM1201 638h1v1h-1zM1202 637h2v1h-2zM1204 636h1v1h-1zM1205 635h2v1h-2zM1207 634h1v1h-1zM1208 633h2v1h-2zM1210 632h1v1h-1zM1211 631h2v1h-2zM1213 630h1v1h-1zM1214 629h1v1h-1zM1215 628h1v1h-1zM1216 627h1v1h-1zM1217 626h1v1h-1zM1218 625h1v1h-1zM1219 624h1v1h-1zM1220 623h1v1h-1zM1221 622h2v1h-2zM1223 621h1v1h-1zM1224 620h1v1h-1zM1225 619h1v1h-1zM1226 618h1v1h-1zM1227 617h1v1h-1zM1228 616h2v1h-2zM1230 615h1v1h-1zM1231 614h1v1h-1zM1232 613h1v1h-1zM1233 612h2v1h-2zM1235 611h1v1h-1zM1236 610h1v1h-1zM1237 609h2v1h-2zM1239 608h1v1h-1zM1240 607h1v1h-1zM1241 606h2v1h-2zM1243 605h1v1h-1zM1244 604h2v1h-2zM1246 603h1v1h-1zM1247 602h2v1h-2zM1249 601h1v1h-1zM1250 600h1v1h-1zM1251 599h2v1h-2zM1253 598h1v1h-1zM1254 597h1v1h-1zM1255 596h1v1h-1zM1256 595h2v1h-2zM1258 594h1v1h-1zM1259 593h1v1h-1zM1260 592h1v1h-1zM1261 591h2v1h-2zM1263 590h1v1h-1zM1264 589h1v1h-1zM1265 588h1v1h-1zM1266 587h2v1h-2zM1268 586h1v1h-1zM1269 585h1v1h-1zM1270 584h1v1h-1zM1271 583h2v1h-2zM1273 582h1v1h-1zM1274 581h1v1h-1zM1275 580h1v1h-1zM1276 579h1v1h-1zM1277 578h2v1h-2zM1279 577h1v1h-1zM1280 576h1v1h-1zM1281 575h1v1h-1zM1282 574h1v1h-1zM1283 573h1v1h-1zM1284 572h1v1h-1zM1285 571h1v1h-1zM1286 570h1v1h-1zM1287 569h2v1h-2zM1289 568h1v1h-1zM1290 567h1v1h-1zM1291 566h1v1h-1zM1292 565h1v1h-1zM1293 564h2v1h-2zM1295 563h1v1h-1zM1296 562h1v1h-1zM1297 561h1v1h-1zM1298 560h2v1h-2zM1300 559h1v1h-1zM1301 558h1v1h-1zM1302 557h2v1h-2zM1304 556h1v1h-1zM1305 555h1v1h-1zM1306 554h2v1h-2zM1308 553h1v1h-1zM1309 552h2v1h-2zM1311 551h1v1h-1zM1312 550h2v1h-2zM1314 549h2v1h-2zM1316 548h1v1h-1zM1317 547h2v1h-2zM1319 546h2v1h-2zM1321 545h2v1h-2zM1323 544h3v1h-3zM1326 543h2v1h-2zM1328 542h3v1h-3zM1331 541h4v1h-4zM1335 540h4v1h-4zM1339 539h4v1h-4zM1343 538h5v1h-5zM1348 537h5v1h-5zM1353 536h5v1h-5zM1358 535h5v1h-5zM1363 534h5v1h-5zM1368 533h5v1h-5zM1373 532h6v1h-6zM1379 531h11v1h-11zM1390 530h6v1h-6zM1396 529h6v1h-6zM1402 528h6v1h-6zM1408 527h43v1h-43zM1451 528h3v1h-3z"/>
</svg>
<div class="a" style="left:0;top:0;width:1842px;height:3px;background:#ff0000"></div>
<div class="a" style="left:1842px;top:0;width:1px;height:391px;background:#fff"></div>
<div class="a" style="left:0;top:390px;width:1843px;height:1px;background:#fff"></div>
<div class="a" style="left:1841px;top:40px;width:3px;height:91px;background:#fff"></div>
<div class="a" style="left:0;top:239px;width:1842px;height:1px;background:#0000ff"></div>
<div class="a" style="left:0;top:266px;width:1842px;height:1px;background:#ffff00"></div>
<div class="a" style="left:0;top:270px;width:1842px;height:1px;background:#ffa500"></div>
<div class="a" style="left:1445px;top:3px;width:1px;height:387px;background:#ff0000"></div>
<div class="a" style="left:0;top:414px;width:1899px;height:2px;background:#fff"></div>
<div class="a" style="left:0;top:419px;width:1899px;height:1px;background:#a5a5a0"></div>
<div class="a" style="left:0;top:420px;width:1899px;height:1px;background:#5a5a62"></div>
<div class="a" style="left:1834px;top:416px;width:1px;height:3px;background:#fff"></div>
<div class="a" style="left:1898px;top:416px;width:1px;height:3px;background:#fff"></div>
<div class="a" style="left:0;top:423px;width:1843px;height:1px;background:#fff"></div>
<div class="a" style="left:1842px;top:423px;width:1px;height:388px;background:#fff"></div>
<div class="a" style="left:0;top:810px;width:1843px;height:1px;background:#fff"></div>
<div class="a" style="left:1841px;top:534px;width:3px;height:64px;background:#fff"></div>
<div class="a" style="left:0;top:539px;width:1842px;height:1px;background:#3cb371"></div>
<div class="a" style="left:0;top:576px;width:1842px;height:1px;background:#0000ff"></div>
<div class="a" style="left:0;top:633px;width:1842px;height:1px;background:#ffff00"></div>
<div class="a" style="left:0;top:642px;width:1842px;height:1px;background:#ffa500"></div>
<div class="a" style="left:1397px;top:424px;width:1px;height:386px;background:#ff0000"></div>
<svg width="10" height="6" style="left:0;top:7px" shape-rendering="auto"><path d="M0 0h9.2L4.6 5.2z" fill="#fff"/></svg>
<div class="t" style="left:14px;top:3px;letter-spacing:-0.09px">USDJPY.raw,H4</div>
<div class="t" style="left:109px;top:3px;letter-spacing:0.45px">154.983 155.238 154.859 155.035</div>
<svg width="10" height="6" style="left:0;top:431px" shape-rendering="auto"><path d="M0 0h9.2L4.6 5.2z" fill="#fff"/></svg>
<div class="t" style="left:14px;top:427px;letter-spacing:-0.09px">USDJPY.raw,H1</div>
<div class="t" style="left:109px;top:427px;letter-spacing:0.45px">155.072 155.135 154.964 155.035</div>
<div class="tk" style="top:28px"></div>
<div class="pl" style="top:22px">159.158</div>
<div class="tk" style="top:77px"></div>
<div class="pl" style="top:71px">158.058</div>
<div class="tk" style="top:126px"></div>
<div class="pl" style="top:120px">156.958</div>
<div class="tk" style="top:175px"></div>
<div class="pl" style="top:169px">155.878</div>
<div class="tk" style="top:224px"></div>
<div class="pl" style="top:218px">154.778</div>
<div class="tk" style="top:322px"></div>
<div class="pl" style="top:316px">152.578</div>
<div class="tk" style="top:371px"></div>
<div class="pl" style="top:365px">151.498</div>
<div class="tk" style="top:448px"></div>
<div class="pl" style="top:442px">155.822</div>
<div class="tk" style="top:497px"></div>
<div class="pl" style="top:491px">155.292</div>
<div class="tk" style="top:546px"></div>
<div class="pl" style="top:540px">154.702</div>
<div class="tk" style="top:595px"></div>
<div class="pl" style="top:589px">154.242</div>
<div class="tk" style="top:693px"></div>
<div class="pl" style="top:687px">153.192</div>
<div class="tk" style="top:742px"></div>
<div class="pl" style="top:736px">152.662</div>
<div class="tk" style="top:791px"></div>
<div class="pl" style="top:785px">152.142</div>
<div class="tk" style="top:273px"></div><div class="tk" style="top:644px"></div>
<div class="tag" style="top:205px;background:#fff;">155.035</div>
<div class="tag" style="top:233px;background:#0000ff;">154.450</div>
<div class="tag" style="top:260px;background:#ffff00;">153.838</div>
<div class="tag" style="top:264px;background:#ffa500;">153.741</div>
<div class="tag" style="top:514px;background:#fff;">155.035</div>
<div class="tag" style="top:533px;background:#3cb371;">154.840</div>
<div class="tag" style="top:570px;background:#0000ff;">154.450</div>
<div class="tag" style="top:627px;background:#ffff00;">153.838</div>
<div class="tag" style="top:636px;background:#ffa500;">153.741</div>
<div class="tl" style="left:-5px;top:395px;letter-spacing:0.2px">8 Jan 2026</div>
<div class="vt" style="left:93px;top:391px"></div>
<div class="tl" style="left:92px;top:395px">12 Jan 16:00</div>
<div class="vt" style="left:189px;top:391px"></div>
<div class="tl" style="left:188px;top:395px">14 Jan 16:00</div>
<div class="vt" style="left:285px;top:391px"></div>
<div class="tl" style="left:284px;top:395px">16 Jan 16:00</div>
<div class="vt" style="left:381px;top:391px"></div>
<div class="tl" style="left:380px;top:395px">20 Jan 16:00</div>
<div class="vt" style="left:477px;top:391px"></div>
<div class="tl" style="left:476px;top:395px">22 Jan 16:00</div>
<div class="vt" style="left:573px;top:391px"></div>
<div class="tl" style="left:572px;top:395px">26 Jan 16:00</div>
<div class="vt" style="left:669px;top:391px"></div>
<div class="tl" style="left:668px;top:395px">28 Jan 16:00</div>
<div class="vt" style="left:765px;top:391px"></div>
<div class="tl" style="left:764px;top:395px">30 Jan 16:00</div>
<div class="vt" style="left:861px;top:391px"></div>
<div class="tl" style="left:860px;top:395px;letter-spacing:0.34px">3 Feb 16:00</div>
<div class="vt" style="left:957px;top:391px"></div>
<div class="tl" style="left:956px;top:395px;letter-spacing:0.34px">5 Feb 16:00</div>
<div class="vt" style="left:1053px;top:391px"></div>
<div class="tl" style="left:1052px;top:395px;letter-spacing:0.34px">9 Feb 16:00</div>
<div class="vt" style="left:1149px;top:391px"></div>
<div class="tl" style="left:1148px;top:395px;letter-spacing:0.34px">11 Feb 16:00</div>
<div class="vt" style="left:1245px;top:391px"></div>
<div class="tl" style="left:1244px;top:395px;letter-spacing:0.34px">13 Feb 16:00</div>
<div class="vt" style="left:1341px;top:391px"></div>
<div class="tl" style="left:1340px;top:395px;letter-spacing:0.34px">17 Feb 16:00</div>
<div class="vt" style="left:1437px;top:391px"></div>
<div class="tl" style="left:1436px;top:395px;letter-spacing:0.34px">19 Feb 16:00</div>
<div class="tl" style="left:-4.5px;top:815px;letter-spacing:0.2px">10 Feb 2026</div>
<div class="vt" style="left:93px;top:811px"></div>
<div class="tl" style="left:92px;top:815px;letter-spacing:0.34px">11 Feb 01:00</div>
<div class="vt" style="left:189px;top:811px"></div>
<div class="tl" style="left:188px;top:815px;letter-spacing:0.34px">11 Feb 13:00</div>
<div class="vt" style="left:285px;top:811px"></div>
<div class="tl" style="left:284px;top:815px;letter-spacing:0.34px">12 Feb 01:00</div>
<div class="vt" style="left:381px;top:811px"></div>
<div class="tl" style="left:380px;top:815px;letter-spacing:0.34px">12 Feb 13:00</div>
<div class="vt" style="left:477px;top:811px"></div>
<div class="tl" style="left:476px;top:815px;letter-spacing:0.34px">13 Feb 01:00</div>
<div class="vt" style="left:573px;top:811px"></div>
<div class="tl" style="left:572px;top:815px;letter-spacing:0.34px">13 Feb 13:00</div>
<div class="vt" style="left:669px;top:811px"></div>
<div class="tl" style="left:668px;top:815px;letter-spacing:0.34px">16 Feb 01:00</div>
<div class="vt" style="left:765px;top:811px"></div>
<div class="tl" style="left:764px;top:815px;letter-spacing:0.34px">16 Feb 13:00</div>
<div class="vt" style="left:861px;top:811px"></div>
<div class="tl" style="left:860px;top:815px;letter-spacing:0.34px">17 Feb 01:00</div>
<div class="vt" style="left:957px;top:811px"></div>
<div class="tl" style="left:956px;top:815px;letter-spacing:0.34px">17 Feb 13:00</div>
<div class="vt" style="left:1053px;top:811px"></div>
<div class="tl" style="left:1052px;top:815px;letter-spacing:0.34px">18 Feb 01:00</div>
<div class="vt" style="left:1149px;top:811px"></div>
<div class="tl" style="left:1148px;top:815px;letter-spacing:0.34px">18 Feb 13:00</div>
<div class="vt" style="left:1245px;top:811px"></div>
<div class="tl" style="left:1244px;top:815px;letter-spacing:0.34px">19 Feb 01:00</div>
<div class="vt" style="left:1341px;top:811px"></div>
<div class="tl" style="left:1340px;top:815px;letter-spacing:0.34px">19 Feb 13:00</div>
<div class="vt" style="left:1437px;top:811px"></div>
<div class="tl" style="left:1436px;top:815px;letter-spacing:0.34px">20 Feb 01:00</div>
<div class="a" style="left:1390px;top:394px;width:110px;height:14px;line-height:16px;overflow:hidden;background:#ff0000;color:#0b0a2b;text-align:center;letter-spacing:0.4px;white-space:nowrap">2026.02.19 20:00</div>
<div class="a" style="left:1342px;top:814px;width:110px;height:14px;line-height:16px;overflow:hidden;background:#ff0000;color:#0b0a2b;text-align:center;letter-spacing:0.4px;white-space:nowrap">2026.02.19 20:00</div>
<svg width="44" height="44" style="left:1559px;top:213px" viewBox="0 0 44 44" shape-rendering="auto">
<circle cx="22.3" cy="22.2" r="21.1" fill="#000"/>
<path d="M14.7 8.1H30.2L34.7 20.1C31.3 24.4 27.4 30 26 38.2H18.8C17.4 30 13.2 24.4 9.8 20.1z" fill="#fff"/>
<circle cx="22.1" cy="19.4" r="4.3" fill="#000"/>
<rect x="21.2" y="20" width="1.9" height="18.4" fill="#000"/>
</svg>
<div class="a" style="left:1560px;top:265px;width:43px;height:43px;background:#fff;box-shadow:0 0 3px rgba(0,0,0,0.6)"></div>
<div class="a" style="left:1562px;top:268px;width:38px;height:37px;background:#35bfea"></div>
<svg width="43" height="43" style="left:1560px;top:265px" viewBox="0 0 43 43" shape-rendering="auto">
<path d="M6.7 21.5c4 10.8 25.2 10.8 29.2 0" fill="none" stroke="#2b4a57" stroke-width="1.5"/>
<path d="M15.3 25.3c3 1.8 8.2 1.8 11.2 0" fill="none" stroke="#2b4a57" stroke-width="1.3"/>
</svg>
</body></html>
